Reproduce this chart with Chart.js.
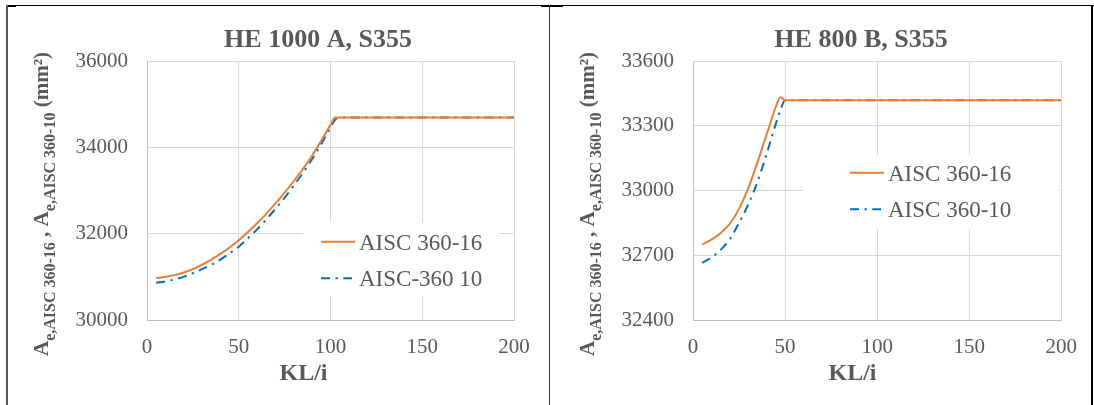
<!DOCTYPE html>
<html>
<head>
<meta charset="utf-8">
<script src="https://cdn.jsdelivr.net/npm/chart.js@4.4.0/dist/chart.umd.min.js"></script>
<style>
  html, body { margin: 0; padding: 0; background: #fff; }
  body { position: relative; width: 1094px; height: 405px; overflow: hidden; }
  .ln { position: absolute; background: #000; }
  canvas { position: absolute; top: 6px; }
</style>
</head>
<body>
<!-- table borders round the two charts -->
<div class="ln" style="left:6px;top:5px;width:1088px;height:1px"></div>
<div class="ln" style="left:6px;top:5px;width:10px;height:2px"></div>
<div class="ln" style="left:541px;top:5px;width:22px;height:2px"></div>
<div class="ln" style="left:6px;top:5px;width:2px;height:400px;background:#5a5a5a"></div>
<div class="ln" style="left:549px;top:5px;width:1px;height:400px;background:#333"></div>
<div class="ln" style="left:1091px;top:5px;width:2px;height:400px"></div>

<canvas id="chartLeft" width="540" height="399" style="left:8px"></canvas>
<canvas id="chartRight" width="538" height="399" style="left:554px"></canvas>

<script>
// HE 1000 A, S355
const klLeft = [5, 10, 15, 20, 25, 30, 35, 40, 45, 50, 55, 60, 65, 70, 75, 80, 85, 90, 95, 100, 102.5, 105, 200];
const aisc16Left = [30970, 31000, 31040, 31100, 31180, 31280, 31400, 31530, 31680, 31850, 32040, 32240, 32460, 32700, 32950, 33220, 33500, 33810, 34160, 34520, 34690, 34690, 34690];
const aisc10Left = [30862, 30895, 30940, 31000, 31085, 31180, 31278, 31400, 31545, 31699, 31895, 32100, 32330, 32575, 32832, 33115, 33410, 33730, 34080, 34460, 34640, 34690, 34690];
const yTicksLeft = [30000, 32000, 34000, 36000];

// HE 800 B, S355
const klRight = [5, 10, 15, 20, 25, 30, 35, 40, 45, 47.5, 50, 200];
const aisc16Right = [32750, 32772, 32803, 32846, 32915, 33010, 33130, 33260, 33388, 33432, 33418, 33418];
const aisc10Right = [32665, 32690, 32725, 32775, 32850, 32935, 33040, 33170, 33310, 33373, 33418, 33418];
const yTicksRight = [32400, 32700, 33000, 33300, 33600];

const xTicks = [0, 50, 100, 150, 200];

const GREY = '#595959';
const SERIF = '"Liberation Serif", "Times New Roman", serif';

const toPoints = (xs, ys) => xs.map((x, i) => ({ x: x, y: ys[i] }));

// titles, rotated y title with subscripts and the in-plot legend
const sheetText = {
  id: 'sheetText',
  beforeDatasetsDraw(chart, args, o) {
    const ctx = chart.ctx, b = o.legendBox;
    ctx.save();
    ctx.fillStyle = '#fff';
    ctx.fillRect(b[0], b[1], b[2] - b[0], b[3] - b[1]);
    ctx.restore();
  },
  afterDatasetsDraw(chart, args, o) {
    const ctx = chart.ctx;
    ctx.save();
    ctx.fillStyle = GREY;
    ctx.textBaseline = 'alphabetic';
    ctx.textAlign = 'center';
    ctx.font = 'bold 26px ' + SERIF;
    ctx.fillText(o.title, o.titleX, 41);
    ctx.font = 'bold 24px ' + SERIF;
    ctx.fillText('KL/i', o.xTitleX, 374);

    // legend
    ctx.textAlign = 'left';
    chart.data.datasets.forEach((ds, i) => {
      const y = o.legendY[i];
      ctx.strokeStyle = ds.borderColor;
      ctx.lineWidth = ds.borderWidth;
      ctx.setLineDash(ds.borderDash || []);
      ctx.beginPath();
      ctx.moveTo(o.legendX, y);
      ctx.lineTo(o.legendX + (ds.borderDash ? 31 : 34), y);
      ctx.stroke();
      ctx.setLineDash([]);
      ctx.font = '23px ' + SERIF;
      ctx.fillText(ds.label, o.legendX + 38, y + 7.8);
    });

    // y axis title: A_e,AISC 360-16 , A_e,AISC 360-10 (mm²)
    const main = 'bold 21px ' + SERIF, sub = 'bold 16px ' + SERIF;
    const parts = [['A', main, 0], ['e,AISC 360-16', sub, 7], [' , ', main, 0],
                   ['A', main, 0], ['e,AISC 360-10', sub, 7], [' (mm²)', main, 0]];
    let total = 0;
    parts.forEach(p => { ctx.font = p[1]; total += ctx.measureText(p[0]).width; });
    ctx.translate(40, 198);
    ctx.rotate(-Math.PI / 2);
    let x = -total / 2;
    parts.forEach(p => {
      ctx.font = p[1];
      ctx.fillText(p[0], x, p[2]);
      x += ctx.measureText(p[0]).width;
    });
    ctx.restore();
  }
};

function makeChart(id, xs, s16, s10, label10, yTicks, padRight, text) {
  const yStep = yTicks[1] - yTicks[0];
  return new Chart(document.getElementById(id), {
    type: 'line',
    data: {
      datasets: [
        { label: 'AISC 360-16', data: toPoints(xs, s16), borderColor: '#ED7D31', borderWidth: 2,
          pointRadius: 0, cubicInterpolationMode: 'monotone', fill: false },
        { label: label10, data: toPoints(xs, s10), borderColor: '#0070C0', borderWidth: 2,
          borderDash: [9, 5.5, 2.3, 5.5], pointRadius: 0, cubicInterpolationMode: 'monotone', fill: false }
      ]
    },
    options: {
      responsive: false,
      animation: false,
      layout: { padding: { top: 55, right: padRight, left: 0, bottom: 0 } },
      plugins: { legend: { display: false }, tooltip: { enabled: false }, sheetText: text },
      scales: {
        x: {
          type: 'linear', min: xTicks[0], max: xTicks[xTicks.length - 1],
          afterFit(s) { s.height = 85; },
          grid: { color: '#D9D9D9', lineWidth: 1, drawTicks: false },
          border: { color: '#BFBFBF', width: 1 },
          ticks: { stepSize: xTicks[1] - xTicks[0], padding: 15, color: GREY,
                   callback: v => String(v), font: { family: SERIF, size: 21 } }
        },
        y: {
          min: yTicks[0], max: yTicks[yTicks.length - 1],
          afterFit(s) { s.width = 139; },
          grid: { color: '#D9D9D9', lineWidth: 1, drawTicks: false },
          border: { color: '#BFBFBF', width: 1 },
          ticks: { stepSize: yStep, padding: 19, color: GREY,
                   callback: v => String(v), font: { family: SERIF, size: 21 } }
        }
      }
    },
    plugins: [sheetText]
  });
}

makeChart('chartLeft', klLeft, aisc16Left, aisc10Left, 'AISC-360 10', yTicksLeft, 34, {
  title: 'HE 1000 A, S355', titleX: 310, xTitleX: 295.5,
  legendBox: [295, 216, 491, 290], legendX: 313, legendY: [235.7, 272.3]
});
makeChart('chartRight', klRight, aisc16Right, aisc10Right, 'AISC 360-10', yTicksRight, 29, {
  title: 'HE 800 B, S355', titleX: 307, xTitleX: 298.5,
  legendBox: [249, 149, 504, 223], legendX: 296, legendY: [166.7, 203.3]
});
</script>
</body>
</html>
